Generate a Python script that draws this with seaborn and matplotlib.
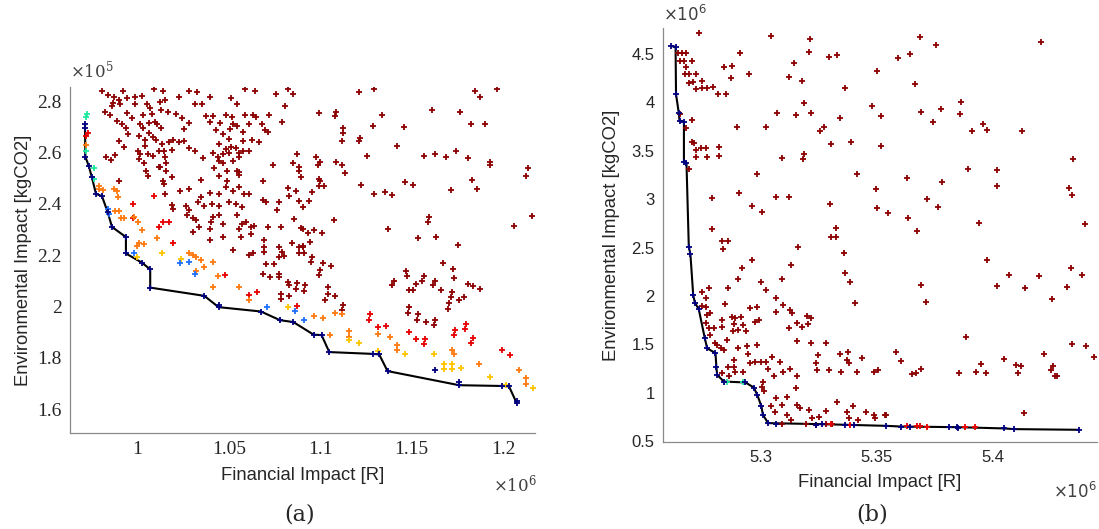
import pandas as pd
import matplotlib
matplotlib.use('Agg')
import matplotlib.pyplot as plt
import seaborn as sns
from matplotlib.ticker import FuncFormatter, FixedLocator

# ---------- panel (a): financial impact in 1e6 R, environmental impact in 1e5 kgCO2 ----------
a_dark = [
    (0.9805, 2.839), (0.984, 2.823), (0.9872, 2.815), (0.9918, 2.841), (0.9942, 2.813), (0.9987, 2.815),
    (1.0024, 2.821), (1.0088, 2.847), (1.0137, 2.841), (1.0151, 2.803), (1.0224, 2.815), (1.0279, 2.839),
    (1.0325, 2.836), (1.0396, 2.818), (1.0513, 2.813), (1.0587, 2.847), (1.0642, 2.839), (1.0757, 2.826),
    (1.0821, 2.847), (1.0848, 2.828), (0.9863, 2.794), (0.9858, 2.781), (0.9903, 2.787), (0.99, 2.803),
    (0.9987, 2.787), (1.0051, 2.787), (1.0069, 2.774), (1.0124, 2.797), (1.0316, 2.790), (1.0352, 2.790),
    (1.0542, 2.790), (1.0808, 2.782), (0.9823, 2.759), (0.9849, 2.748), (0.994, 2.755), (0.9969, 2.736),
    (1.0027, 2.748), (1.0078, 2.751), (1.0128, 2.766), (1.0164, 2.759), (1.021, 2.751), (1.0243, 2.736),
    (1.0374, 2.742), (1.041, 2.743), (1.0483, 2.748), (1.0514, 2.738), (1.0587, 2.748), (1.0629, 2.748),
    (1.0648, 2.738), (1.072, 2.748), (0.9885, 2.723), (0.9914, 2.712), (0.9936, 2.697), (0.9945, 2.671),
    (1.0013, 2.710), (1.0031, 2.697), (1.0064, 2.716), (1.0097, 2.717), (1.013, 2.697), (1.006, 2.677),
    (1.0104, 2.710), (1.0255, 2.690), (1.0283, 2.716), (1.0396, 2.720), (1.0429, 2.687), (1.0451, 2.716),
    (1.0469, 2.671), (1.0505, 2.690), (1.052, 2.710), (1.0542, 2.702), (1.0575, 2.679), (1.0607, 2.710),
    (1.068, 2.712), (1.0699, 2.687), (1.0713, 2.681), (1.079, 2.717), (0.99, 2.645), (0.9927, 2.622),
    (1.0009, 2.665), (1.0042, 2.648), (1.0086, 2.661), (1.01, 2.648), (1.0042, 2.626), (1.0133, 2.632),
    (1.0173, 2.639), (1.0195, 2.650), (1.0228, 2.641), (1.0255, 2.645), (1.0279, 2.619), (1.0316, 2.607),
    (1.0447, 2.632), (1.0483, 2.613), (1.0511, 2.622), (1.0538, 2.619), (1.0575, 2.645), (1.0624, 2.648),
    (1.0666, 2.639), (1.0498, 2.652), (0.9827, 2.581), (0.9878, 2.589), (0.9854, 2.570), (1.0, 2.607),
    (1.0013, 2.596), (1.0055, 2.594), (1.0009, 2.574), (1.0036, 2.558), (1.0082, 2.587), (1.0115, 2.607),
    (1.0146, 2.607), (1.0188, 2.609), (1.0151, 2.581), (1.0122, 2.542), (1.0155, 2.561), (1.0359, 2.578),
    (1.0414, 2.600), (1.0438, 2.581), (1.0447, 2.568), (1.0465, 2.594), (1.0502, 2.600), (1.052, 2.568),
    (1.0556, 2.600), (1.0575, 2.604), (1.0556, 2.583), (1.0607, 2.607), (1.0739, 2.552), (1.087, 2.594),
    (1.0848, 2.558), (1.0881, 2.545), (1.0046, 2.529), (1.0055, 2.510), (1.0115, 2.545), (1.0155, 2.529),
    (1.0188, 2.503), (1.0137, 2.491), (1.0146, 2.478), (1.0347, 2.493), (1.042, 2.540), (1.0469, 2.561),
    (1.0487, 2.529), (1.0443, 2.510), (1.0492, 2.491), (1.0542, 2.527), (1.0553, 2.514), (1.0556, 2.523),
    (1.0688, 2.491), (1.0885, 2.529), (1.0894, 2.503), (0.99, 2.491), (1.0151, 2.439), (1.0233, 2.452),
    (1.0279, 2.458), (1.0347, 2.426), (1.0396, 2.442), (1.0443, 2.439), (1.0483, 2.465), (1.052, 2.452),
    (1.0556, 2.465), (1.0584, 2.439), (1.0611, 2.439), (1.0821, 2.460), (1.0866, 2.452), (1.083, 2.432),
    (1.0188, 2.394), (1.0192, 2.381), (1.0264, 2.390), (1.0279, 2.377), (1.0328, 2.407), (1.0365, 2.390),
    (1.0407, 2.398), (1.0443, 2.390), (1.0498, 2.407), (1.0538, 2.398), (1.0571, 2.387), (1.0684, 2.416),
    (1.0702, 2.407), (1.0772, 2.407), (1.0761, 2.377), (1.0885, 2.413), (1.0907, 2.387), (1.0268, 2.355),
    (1.0301, 2.346), (1.0319, 2.336), (1.0401, 2.329), (1.041, 2.349), (1.0443, 2.355), (1.0542, 2.355),
    (1.0571, 2.323), (1.0593, 2.329), (1.062, 2.310), (1.0638, 2.315), (1.0711, 2.310), (1.0784, 2.310),
    (1.0857, 2.342), (1.0907, 2.303), (1.0301, 2.291), (1.0337, 2.310), (1.0396, 2.303), (1.0465, 2.323),
    (1.0556, 2.303), (1.0396, 2.258), (1.0469, 2.271), (1.0565, 2.271), (1.062, 2.282), (1.0693, 2.261),
    (1.052, 2.220), (1.0611, 2.200), (1.0629, 2.207), (1.0693, 2.233), (1.0693, 2.213), (1.0775, 2.233),
    (1.079, 2.213), (1.0844, 2.246), (1.0885, 2.233), (1.0907, 2.233), (1.0772, 2.194), (1.0802, 2.196),
    (1.0885, 2.207), (1.1213, 2.836), (1.1293, 2.846), (1.1849, 2.841), (1.1873, 2.815), (1.1968, 2.847),
    (1.0994, 2.754), (1.1085, 2.756), (1.1078, 2.743), (1.1339, 2.748), (1.1614, 2.764), (1.1762, 2.756),
    (1.1289, 2.703), (1.1459, 2.700), (1.1827, 2.710), (1.1904, 2.712), (1.1125, 2.694), (1.1125, 2.676),
    (1.1121, 2.643), (1.1216, 2.656), (1.1213, 2.643), (1.1417, 2.626), (1.0976, 2.583), (1.0997, 2.565),
    (1.0990, 2.550), (1.1085, 2.564), (1.1118, 2.551), (1.1136, 2.521), (1.1256, 2.586), (1.1567, 2.585),
    (1.1625, 2.596), (1.1687, 2.581), (1.1742, 2.605), (1.1807, 2.579), (1.1931, 2.565), (1.1928, 2.550),
    (1.2134, 2.539), (1.2128, 2.508), (1.0994, 2.496), (1.1001, 2.491), (1.0994, 2.470), (1.1019, 2.468),
    (1.0957, 2.447), (1.0939, 2.411), (1.1220, 2.474), (1.1293, 2.439), (1.1353, 2.448), (1.1395, 2.433),
    (1.1464, 2.485), (1.1506, 2.475), (1.1718, 2.454), (1.1829, 2.493), (1.1860, 2.457), (1.2160, 2.354),
    (1.2059, 2.315), (1.1076, 2.338), (1.1373, 2.302), (1.1596, 2.349), (1.1592, 2.328), (1.1537, 2.266),
    (1.1632, 2.271), (1.1753, 2.239), (1.0897, 2.305), (1.0934, 2.287), (1.0965, 2.300), (1.1007, 2.287),
    (1.0943, 2.251), (1.0906, 2.235), (1.0910, 2.209), (1.0955, 2.194), (1.0702, 2.166), (1.0748, 2.166),
    (1.0684, 2.127), (1.0724, 2.114), (1.0775, 2.127), (1.0775, 2.114), (1.0821, 2.097), (1.0826, 2.084),
    (1.087, 2.091), (1.0866, 2.068), (1.0917, 2.084), (1.0912, 2.062), (1.0948, 2.175), (1.1012, 2.168),
    (1.1058, 2.159), (1.0998, 2.142), (1.0994, 2.123), (1.1043, 2.078), (1.104, 2.048), (1.1081, 2.043),
    (1.1027, 2.024), (1.1122, 2.007), (1.1118, 1.988), (1.0786, 2.050), (1.0786, 2.029), (1.0826, 2.042),
    (1.1672, 2.168), (1.1727, 2.145), (1.1733, 2.110), (1.1468, 2.140), (1.1472, 2.119), (1.1404, 2.101),
    (1.1395, 2.084), (1.1523, 2.087), (1.1567, 2.119), (1.1559, 2.101), (1.1627, 2.101), (1.1618, 2.084),
    (1.1486, 2.065), (1.1509, 2.065), (1.166, 2.065), (1.1722, 2.055), (1.1718, 2.039), (1.1759, 2.026),
    (1.1788, 2.039), (1.1811, 2.087), (1.1833, 2.080), (1.1875, 2.068), (1.1705, 2.013), (1.1701, 1.990),
    (1.1486, 1.998), (1.1479, 1.977), (1.1534, 1.972), (1.1528, 1.949), (1.1581, 1.942), (1.1627, 1.949),
    (1.1622, 1.930),
]
a_red = [
    (1.0115, 2.310), (1.0137, 2.329), (1.017, 2.329), (0.9973, 2.398), (0.9976, 2.346), (1.0195, 2.248),
    (0.9717, 2.665), (0.9726, 2.677), (1.0091, 2.429), (1.0611, 2.046), (1.0651, 2.055), (1.048, 2.123),
    (1.087, 2.003), (1.1271, 1.972), (1.1267, 1.946), (1.1318, 1.920), (1.1359, 1.926), (1.1486, 1.900),
    (1.1526, 1.872), (1.1574, 1.874), (1.1568, 1.856), (1.1738, 1.910), (1.1733, 1.891), (1.1796, 1.933),
    (1.1792, 1.913), (1.1833, 1.878), (1.1826, 1.859), (1.1997, 1.830), (1.2037, 1.811),
]
a_orange = [
    (0.9787, 2.470), (0.9812, 2.454), (0.979, 2.458), (0.9872, 2.458), (0.9885, 2.452), (0.9891, 2.426),
    (0.9878, 2.372), (0.99, 2.372), (0.9909, 2.346), (0.9927, 2.346), (0.9978, 2.349), (1.0, 2.329),
    (1.0024, 2.297), (1.0005, 2.246), (0.9996, 2.236), (1.0036, 2.243), (1.0104, 2.269), (1.0283, 2.207),
    (1.0301, 2.200), (1.0319, 2.194), (0.9717, 2.628), (1.0319, 2.140), (1.0365, 2.155), (1.0347, 2.181),
    (1.0438, 2.119), (1.0411, 2.078), (1.0556, 2.078), (1.0611, 2.026), (1.0967, 1.962), (1.1012, 1.955),
    (1.1081, 1.975), (1.1118, 1.972), (1.1158, 1.906), (1.1158, 1.882), (1.1054, 1.891), (1.1318, 1.895),
    (1.1381, 1.882), (1.1418, 1.850), (1.1418, 1.830), (1.1721, 1.830), (1.1729, 1.817), (1.1871, 1.777),
    (1.2089, 1.753), (1.2128, 1.721), (1.2128, 1.700), (1.041, 2.175),
]
a_yellow = [
    (1.0133, 2.209), (0.9995, 2.194), (1.0237, 2.185), (1.0821, 2.000), (1.1213, 1.859), (1.1464, 1.814),
    (1.1623, 1.817), (1.1678, 1.775), (1.1678, 1.758), (1.172, 1.775), (1.172, 1.756), (1.1769, 1.762),
    (1.1927, 1.727), (1.2019, 1.694), (1.2165, 1.685), (1.1313, 1.826), (1.1158, 1.869),
]
a_blue = [
    (0.9836, 2.381), (0.9845, 2.362), (0.9982, 2.209), (1.0233, 2.168), (1.0283, 2.175), (1.0312, 2.126),
    (1.0707, 2.000), (1.0863, 1.984), (1.0912, 1.949),
]
a_cyan = [(0.9721, 2.751), (0.9717, 2.738), (0.9717, 2.607), (0.9763, 2.540), (0.9763, 2.497)]
a_front = [
    (0.9712, 2.712), (0.9714, 2.583), (0.9732, 2.549), (0.975, 2.503), (0.9772, 2.439), (0.9805, 2.430),
    (0.9836, 2.368), (0.986, 2.310), (0.9936, 2.271), (0.9936, 2.207), (1.0024, 2.171), (1.0069, 2.145),
    (1.0069, 2.074), (1.0365, 2.042), (1.0443, 1.998), (1.0675, 1.981), (1.078, 1.947), (1.0852, 1.940),
    (1.0963, 1.891), (1.1007, 1.889), (1.1049, 1.823), (1.1286, 1.816), (1.1322, 1.814), (1.1368, 1.749),
    (1.176, 1.694), (1.1997, 1.691), (1.2033, 1.689), (1.2075, 1.624),
]
a_navy_extra = [(1.1627, 1.752), (0.9712, 2.697), (1.176, 1.705), (1.2075, 1.632), (1.0443, 2.008)]

# ---------- panel (b): financial impact in 1e6 R, environmental impact in 1e6 kgCO2 ----------
b_dark = [
    (5.2734, 4.720), (5.3043, 4.689), (5.3211, 4.655), (5.3208, 4.517), (5.2911, 4.507), (5.3295, 4.466),
    (5.3331, 4.490), (5.3503, 4.328), (5.2645, 4.507), (5.266, 4.507), (5.2677, 4.507), (5.2652, 4.431),
    (5.267, 4.431), (5.2703, 4.431), (5.2681, 4.362), (5.2674, 4.290), (5.2694, 4.290), (5.272, 4.290),
    (5.2691, 4.204), (5.2708, 4.214), (5.2749, 4.224), (5.2723, 4.135), (5.2749, 4.145), (5.2771, 4.145),
    (5.2797, 4.163), (5.2815, 4.087), (5.2851, 4.083), (5.2842, 4.369), (5.2875, 4.376), (5.2871, 4.249),
    (5.295, 4.290), (5.3122, 4.266), (5.3144, 4.410), (5.318, 4.224), (5.3188, 3.990), (5.3216, 3.887),
    (5.3151, 3.870), (5.3072, 3.887), (5.3341, 3.835), (5.3364, 4.145), (5.348, 3.963), (5.3517, 3.860),
    (5.2899, 3.749), (5.3024, 3.742), (5.3255, 3.708), (5.3273, 3.742), (5.3303, 3.570), (5.3388, 3.594),
    (5.3517, 3.550), (5.3091, 3.422), (5.3187, 3.467), (5.3183, 3.412), (5.3417, 3.260), (5.2986, 3.260),
    (5.3496, 3.102), (5.3503, 2.906), (5.2909, 3.067), (5.3065, 3.026), (5.3122, 3.019), (5.2964, 2.933),
    (5.3007, 2.864), (5.3298, 2.950), (5.3326, 2.699), (5.3302, 2.606), (5.3324, 2.606), (5.336, 2.441),
    (5.3366, 2.234), (5.3385, 2.148), (5.3409, 1.924), (5.3162, 2.503), (5.3133, 2.320), (5.3091, 2.176),
    (5.2964, 2.372), (5.2921, 2.286), (5.2904, 2.176), (5.3001, 2.148), (5.3023, 2.062), (5.2861, 2.086),
    (5.2849, 1.917), (5.2789, 3.009), (5.2789, 2.689), (5.2832, 2.568), (5.2861, 2.568), (5.2839, 2.482),
    (5.2703, 3.594), (5.2713, 3.577), (5.272, 3.508), (5.2742, 3.525), (5.2766, 3.525), (5.277, 3.439),
    (5.2821, 3.535), (5.2821, 3.446), (5.2723, 3.439), (5.2694, 3.309), (5.2705, 3.818), (5.2681, 3.732),
    (5.2655, 3.880), (5.2746, 2.045), (5.2777, 2.079), (5.2763, 1.976), (5.2746, 1.897), (5.2763, 1.883),
    (5.277, 1.804), (5.2784, 1.828), (5.2763, 1.718), (5.2777, 1.666), (5.2799, 1.666), (5.2784, 1.597),
    (5.2806, 1.511), (5.2835, 1.752), (5.2832, 1.683), (5.2875, 1.787), (5.2892, 1.770), (5.2918, 1.780),
    (5.2885, 1.707), (5.2904, 1.652), (5.2881, 1.635), (5.2936, 1.638), (5.2926, 1.700), (5.2953, 1.873),
    (5.2976, 1.735), (5.2993, 1.752), (5.2986, 1.890), (5.3065, 1.983), (5.3065, 1.838), (5.3098, 1.907),
    (5.3126, 1.855), (5.3136, 1.821), (5.3122, 1.666), (5.3158, 1.718), (5.318, 1.683), (5.3201, 1.793),
    (5.3219, 1.770), (5.3205, 1.711), (5.3155, 1.538), (5.3216, 1.511), (5.3284, 1.511), (5.3249, 1.391),
    (5.3237, 1.305), (5.3245, 1.236), (5.3295, 1.229), (5.3341, 1.401), (5.3378, 1.425), (5.3374, 1.339),
    (5.3381, 1.311), (5.3345, 1.218), (5.3414, 1.218), (5.3437, 1.363), (5.349, 1.218), (5.3504, 1.236),
    (5.3158, 1.167), (5.3126, 1.243), (5.3095, 1.218), (5.3086, 1.322), (5.305, 1.366), (5.3022, 1.322),
    (5.3033, 1.243), (5.3004, 1.322), (5.2976, 1.315), (5.2947, 1.401), (5.2953, 1.311), (5.2986, 1.494),
    (5.2943, 1.483), (5.2904, 1.459), (5.2885, 1.339), (5.2885, 1.270), (5.2924, 1.218), (5.2892, 1.218),
    (5.2861, 1.270), (5.2864, 1.167), (5.2835, 1.201), (5.2842, 1.442), (5.2856, 1.545), (5.2813, 1.494),
    (5.2828, 1.459), (5.3057, 1.167), (5.3007, 1.063), (5.3014, 1.022), (5.301, 1.115), (5.3065, 0.943),
    (5.3043, 0.857), (5.3061, 0.805), (5.3093, 0.874), (5.3115, 0.960), (5.3151, 1.046), (5.3158, 0.874),
    (5.3172, 0.839), (5.3115, 0.771), (5.313, 0.719), (5.3208, 0.822), (5.3223, 0.736), (5.3252, 0.746),
    (5.3283, 0.815), (5.3331, 0.908), (5.3374, 0.805), (5.3381, 0.736), (5.3398, 0.857), (5.3421, 0.719),
    (5.3453, 0.795), (5.349, 0.771), (5.3494, 0.736), (5.3536, 0.771), (5.3309, 0.678), (5.3283, 0.674),
    (5.3237, 0.667), (5.3091, 0.678), (5.3198, 0.678), (5.3687, 4.679), (5.3758, 4.590), (5.3592, 4.459),
    (5.3646, 4.500), (5.421, 4.621), (5.3665, 4.190), (5.369, 3.897), (5.3776, 3.928), (5.3862, 4.008),
    (5.3858, 3.884), (5.3743, 3.801), (5.3911, 3.701), (5.396, 3.777), (5.3974, 3.715), (5.4126, 3.705),
    (5.4346, 3.415), (5.433, 3.119), (5.434, 3.040), (5.4398, 2.744), (5.3629, 3.216), (5.3780, 3.178),
    (5.3895, 3.309), (5.4020, 3.302), (5.402, 3.133), (5.3718, 3.006), (5.3764, 2.923), (5.3549, 2.857),
    (5.3636, 2.802), (5.3675, 2.668), (5.3941, 2.758), (5.3974, 2.372), (5.4070, 2.217), (5.4198, 2.207),
    (5.4336, 2.286), (5.4386, 2.217), (5.369, 2.110), (5.3711, 1.938), (5.402, 2.103), (5.4139, 2.079),
    (5.4319, 2.096), (5.4256, 1.969), (5.3885, 1.573), (5.3582, 1.418), (5.3603, 1.329), (5.3654, 1.191),
    (5.3668, 1.208), (5.3692, 1.246), (5.3855, 1.198), (5.393, 1.215), (5.3948, 1.294), (5.3970, 1.198),
    (5.4049, 1.349), (5.41, 1.284), (5.4109, 1.201), (5.4124, 1.277), (5.4221, 1.401), (5.4260, 1.277),
    (5.4250, 1.232), (5.4267, 1.174), (5.4279, 1.174), (5.4343, 1.504), (5.4401, 1.483), (5.4437, 1.366),
    (5.3539, 0.771), (5.4135, 0.788),
]
b_red = [(5.3632, 0.657), (5.3675, 0.657), (5.3687, 0.657), (5.3718, 0.650), (5.388, 0.643), (5.3924, 0.643),
         (5.3305, 0.676), (5.3385, 0.668)]
b_cyan = [(5.2856, 1.112), (5.2924, 1.108)]
b_front = [
    (5.2616, 4.583), (5.2634, 4.576), (5.2636, 4.087), (5.2648, 3.887), (5.2651, 3.811), (5.267, 3.801),
    (5.267, 3.388), (5.2681, 3.377), (5.2691, 2.510), (5.2698, 2.430), (5.271, 2.010), (5.2717, 1.931),
    (5.2734, 1.862), (5.276, 1.563), (5.277, 1.459), (5.2806, 1.408), (5.281, 1.260), (5.2813, 1.184),
    (5.2842, 1.115), (5.2935, 1.105), (5.2971, 1.053), (5.2986, 0.977), (5.3004, 0.857), (5.301, 0.771),
    (5.3033, 0.685), (5.3266, 0.674), (5.3539, 0.657), (5.3603, 0.650), (5.3848, 0.643), (5.4049, 0.630),
    (5.4092, 0.623), (5.437, 0.616),
]
b_navy_extra = [(5.3065, 0.678), (5.3237, 0.670), (5.3646, 0.648), (5.3812, 0.645), (5.385, 0.636),
                (5.3364, 0.668), (5.3404, 0.666)]

colors = {'dark': '#8c0000', 'red': '#e60000', 'orange': '#ff7a10', 'yellow': '#ffc400',
          'blue': '#1f6fff', 'cyan': '#1fe8a0', 'navy': '#00007f'}


def frame(groups):
    rows = []
    for name, pts in groups:
        for x, y in pts:
            rows.append({'x': x, 'y': y, 'group': name})
    return pd.DataFrame(rows)


df_a = frame([('dark', a_dark), ('red', a_red), ('orange', a_orange), ('yellow', a_yellow),
              ('blue', a_blue), ('cyan', a_cyan), ('navy', a_front + a_navy_extra)])
df_b = frame([('dark', b_dark), ('red', b_red), ('cyan', b_cyan), ('navy', b_front + b_navy_extra)])
front_a = pd.DataFrame(a_front, columns=['x', 'y'])
front_b = pd.DataFrame(b_front, columns=['x', 'y'])

sns.set_theme(style='white')
plt.rcParams['font.family'] = ['Liberation Sans', 'DejaVu Sans']

fig = plt.figure(figsize=(10.99, 5.29), dpi=100)
ax_a = fig.add_axes([0.0637, 0.1815, 0.4231, 0.654])
ax_b = fig.add_axes([0.6033, 0.1645, 0.395, 0.7826])


def draw(ax, df, front, tick_size, ylabelpad):
    sns.lineplot(data=front, x='x', y='y', sort=False, color='black', linewidth=1.5,
                 estimator=None, ax=ax, zorder=2)
    for name in ['dark', 'red', 'orange', 'yellow', 'blue', 'cyan', 'navy']:
        sub = df[df['group'] == name]
        if len(sub) == 0:
            continue
        sns.scatterplot(data=sub, x='x', y='y', marker='+', s=24, linewidth=1.3,
                        color=colors[name], ax=ax, zorder=3, legend=False)
    for side in ['top', 'right']:
        ax.spines[side].set_visible(False)
    for side in ['left', 'bottom']:
        ax.spines[side].set_color('#8a8a8a')
        ax.spines[side].set_linewidth(0.9)
    ax.tick_params(direction='in', length=3, width=0.8, color='#8a8a8a',
                   labelsize=tick_size, labelcolor='#262626', pad=6)
    ax.xaxis.set_major_formatter(FuncFormatter(lambda v, p: '%g' % round(v, 4)))
    ax.yaxis.set_major_formatter(FuncFormatter(lambda v, p: '%g' % round(v, 4)))
    ax.set_xlabel('Financial Impact [R]', fontsize=13.3, color='#262626', labelpad=6)
    ax.set_ylabel('Environmental Impact [kgCO2]', fontsize=13.3, color='#262626', labelpad=ylabelpad)
    ax.grid(False)


draw(ax_a, df_a, front_a, 14, 4)
ax_a.set_xlim(0.963, 1.2175)
ax_a.set_ylim(1.508, 2.855)
ax_a.xaxis.set_major_locator(FixedLocator([1.0, 1.05, 1.1, 1.15, 1.2]))
ax_a.yaxis.set_major_locator(FixedLocator([1.6, 1.8, 2.0, 2.2, 2.4, 2.6, 2.8]))
for lab in ax_a.get_xticklabels() + ax_a.get_yticklabels():
    lab.set_family('Liberation Serif')
ax_a.text(0.0, 1.015, r'$\times10^5$', transform=ax_a.transAxes, fontsize=12, color='#404040',
          ha='left', va='bottom', family='DejaVu Serif', math_fontfamily='dejavuserif')
ax_a.text(1.005, -0.15, r'$\times10^6$', transform=ax_a.transAxes, fontsize=12, color='#404040',
          ha='right', va='center', family='DejaVu Serif', math_fontfamily='dejavuserif')

draw(ax_b, df_b, front_b, 12, 8)
ax_b.set_xlim(5.258, 5.445)
ax_b.set_ylim(0.49, 4.77)
ax_b.xaxis.set_major_locator(FixedLocator([5.3, 5.35, 5.4]))
ax_b.yaxis.set_major_locator(FixedLocator([0.5, 1, 1.5, 2, 2.5, 3, 3.5, 4, 4.5]))
for lab in ax_b.get_xticklabels() + ax_b.get_yticklabels():
    lab.set_family('Liberation Sans')
ax_b.text(0.0, 1.01, r'$\times10^6$', transform=ax_b.transAxes, fontsize=12, color='#404040',
          ha='left', va='bottom')
ax_b.text(1.0, -0.118, r'$\times10^6$', transform=ax_b.transAxes, fontsize=12, color='#404040',
          ha='right', va='center')

fig.text(300 / 1099, 1 - 515 / 529, '(a)', fontsize=16, family='DejaVu Serif', ha='center', va='center')
fig.text(872 / 1099, 1 - 515 / 529, '(b)', fontsize=16, family='DejaVu Serif', ha='center', va='center')

fig.savefig('out.png', dpi=100)
